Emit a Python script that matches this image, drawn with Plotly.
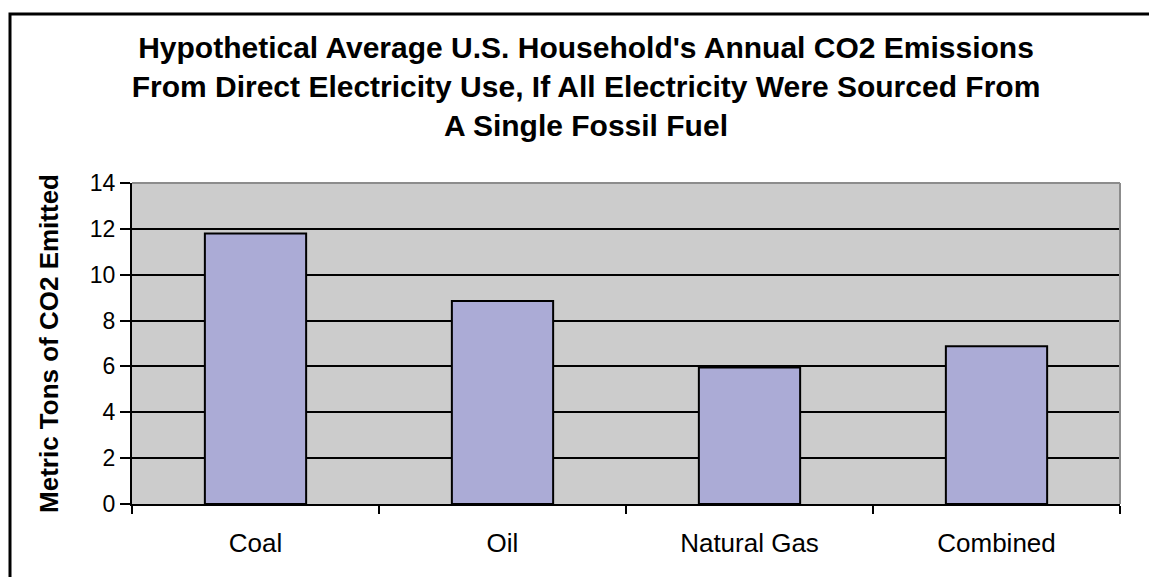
import plotly.graph_objects as go

categories = ["Coal", "Oil", "Natural Gas", "Combined"]
emissions = [11.8, 8.85, 5.95, 6.88]
y_ticks = [0, 2, 4, 6, 8, 10, 12, 14]

title_text = ("Hypothetical Average U.S. Household's Annual CO2 Emissions<br>"
              "From Direct Electricity Use, If All Electricity Were Sourced From<br>"
              "A Single Fossil Fuel")
y_title = "Metric Tons of CO2 Emitted"

W, H = 1149, 577
ML, MR, MT, MB = 132, 29, 183, 73
PW, PH = W - ML - MR, H - MT - MB


def px_x(p):
    return (p - ML) / PW


def px_y(p):
    return (H - MB - p) / PH


fig = go.Figure(
    go.Bar(
        x=categories,
        y=emissions,
        marker=dict(color="#ABABD6", line=dict(color="#000000", width=2)),
        width=0.41,
    )
)

fig.update_layout(
    width=W,
    height=H,
    margin=dict(l=ML, r=MR, t=MT, b=MB, pad=0),
    paper_bgcolor="#FFFFFF",
    plot_bgcolor="#CCCCCC",
    font=dict(family="Liberation Sans, Arial, sans-serif", color="#000000"),
    title=dict(
        text=title_text,
        x=586 / W,
        xanchor="center",
        xref="container",
        y=1 - 58 / H,
        yanchor="top",
        yref="container",
        font=dict(size=30, family="Liberation Sans, Arial, sans-serif", weight="bold", color="#000000"),
    ),
    showlegend=False,
    bargap=0.59,
)

fig.update_xaxes(
    type="category",
    showgrid=False,
    showline=True,
    linecolor="#000000",
    linewidth=2,
    ticks="outside",
    tickson="boundaries",
    ticklen=8,
    tickwidth=2,
    tickcolor="#000000",
    tickfont=dict(size=26),
    ticklabelstandoff=15,
)

fig.update_yaxes(
    range=[0, 14],
    tickvals=y_ticks,
    ticktext=[str(v) for v in y_ticks],
    showgrid=True,
    gridcolor="#000000",
    gridwidth=2,
    zeroline=False,
    showline=True,
    linecolor="#000000",
    linewidth=2,
    ticks="outside",
    ticklen=10,
    tickwidth=2,
    tickcolor="#000000",
    tickfont=dict(size=23),
    ticklabelstandoff=0,
    title=dict(text=y_title, font=dict(size=26, weight="bold"), standoff=24),
)

# plot-area border (gray) on top and right
fig.add_shape(type="line", xref="paper", yref="paper", x0=0, x1=1, y0=1, y1=1,
              line=dict(color="#8C8C8C", width=2), layer="above")
fig.add_shape(type="line", xref="paper", yref="paper", x0=1, x1=1, y0=0, y1=1,
              line=dict(color="#8C8C8C", width=2), layer="above")

# outer chart frame
fig.add_shape(type="rect", xref="paper", yref="paper",
              x0=px_x(10), x1=px_x(W + 20), y0=px_y(14), y1=px_y(H + 20),
              line=dict(color="#000000", width=3), fillcolor="rgba(0,0,0,0)", layer="above")

fig.write_html("out.html")
